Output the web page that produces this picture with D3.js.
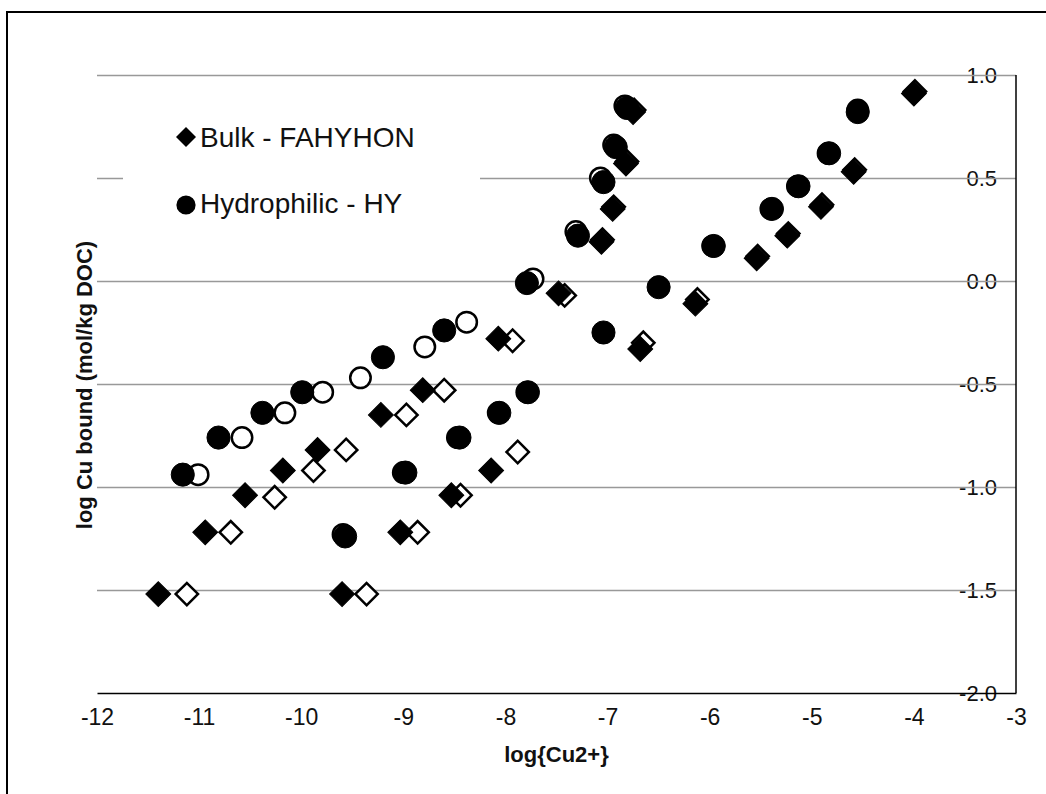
<!DOCTYPE html>
<html>
<head>
<meta charset="utf-8">
<script src="https://cdn.jsdelivr.net/npm/d3@7"></script>
<style>
    body { margin: 0; background: #fff; }
    svg { display: block; font-family: 'Liberation Sans', Arial, sans-serif; }
    .tick-label { font-size: 23px; fill: #111; }
    .y-label { font-size: 22px; fill: #111; }
    .axis-title { font-size: 22px; font-weight: bold; fill: #111; }
    .legend-text { font-size: 28px; fill: #111; }
</style>
</head>
<body>
<svg id="chart"></svg>
<script>
// Bulk - FAHYHON, filled diamonds
const bulkX = [-11.40, -10.94, -10.55, -10.18, -9.84, -9.22, -8.81, -8.07, -7.48, -7.06, -6.95, -6.82, -6.75,
    -9.60, -9.03, -8.53, -8.14, -6.68, -6.14, -5.54, -5.24, -4.91, -4.59, -4.00]
const bulkY = [-1.52, -1.22, -1.04, -0.92, -0.82, -0.65, -0.53, -0.28, -0.06, 0.19, 0.35, 0.57, 0.82,
    -1.52, -1.22, -1.04, -0.92, -0.33, -0.11, 0.11, 0.22, 0.36, 0.53, 0.91]

// Bulk, open diamonds
const bulkOpenX = [-11.12, -10.69, -10.26, -9.88, -9.56, -8.97, -8.60, -7.93, -7.42, -9.36, -8.86, -8.44, -7.88,
    -6.65, -6.12, -5.53, -5.23, -4.90, -4.58, -3.99, -7.05, -6.94, -6.81, -6.74]
const bulkOpenY = [-1.52, -1.22, -1.05, -0.92, -0.82, -0.65, -0.53, -0.29, -0.07, -1.52, -1.22, -1.04, -0.83,
    -0.30, -0.09, 0.12, 0.23, 0.37, 0.54, 0.92, 0.20, 0.36, 0.58, 0.83]

// Hydrophilic - HY, filled circles
const hyX = [-11.16, -10.81, -10.38, -9.99, -9.20, -8.60, -7.79, -7.29, -7.04, -6.92, -6.81,
    -9.57, -8.98, -8.45, -8.06, -7.78, -7.04, -6.50, -5.96, -5.39, -5.13, -4.83, -4.55]
const hyY = [-0.94, -0.76, -0.64, -0.54, -0.37, -0.24, -0.01, 0.22, 0.48, 0.65, 0.84,
    -1.24, -0.93, -0.76, -0.64, -0.54, -0.25, -0.03, 0.17, 0.35, 0.46, 0.62, 0.82]

// Hydrophilic, open circles
const hyOpenX = [-11.01, -10.58, -10.16, -9.79, -9.42, -8.79, -8.38, -7.73, -7.31, -7.07, -6.94, -6.83,
    -9.59, -9.00, -8.47, -8.07, -7.79, -5.97, -5.40, -5.14, -4.84, -4.55]
const hyOpenY = [-0.94, -0.76, -0.64, -0.54, -0.47, -0.32, -0.20, 0.01, 0.24, 0.50, 0.66, 0.85,
    -1.23, -0.93, -0.76, -0.64, -0.54, 0.17, 0.35, 0.46, 0.62, 0.83]

const xTicks = [-12, -11, -10, -9, -8, -7, -6, -5, -4, -3]
const yTicks = [1.0, 0.5, 0.0, -0.5, -1.0, -1.5, -2.0]
const legendLabels = ['Bulk - FAHYHON', 'Hydrophilic - HY']

const width = 1046, height = 794
const margin = { top: 75, right: 30, bottom: 101, left: 97 }
const innerW = width - margin.left - margin.right
const innerH = height - margin.top - margin.bottom

const svg = d3.select('#chart')
    .attr('width', width)
    .attr('height', height)

// outer frame (runs off the right and bottom edges)
svg.append('rect')
    .attr('x', 7).attr('y', 12)
    .attr('width', width + 10).attr('height', height + 10)
    .attr('fill', 'none')
    .attr('stroke', '#000')
    .attr('stroke-width', 2)

const chart = svg.append('g')
    .attr('transform', `translate(${margin.left}, ${margin.top})`)

const xScale = d3.scaleLinear().domain([-12, -3]).range([0, innerW])
const yScale = d3.scaleLinear().domain([-2, 1]).range([innerH, 0])

// y labels sit under the gridlines, just left of the right axis
chart.append('g')
    .selectAll('text')
    .data(yTicks)
    .join('text')
        .attr('class', 'y-label')
        .attr('x', innerW - 19)
        .attr('y', d => yScale(d))
        .attr('dy', '0.36em')
        .attr('text-anchor', 'end')
        .text(d => d3.format('.1f')(d).replace('−', '-'))

// horizontal gridlines
const yGrid = d3.axisRight(yScale).tickValues(yTicks.slice(0, -1)).tickSize(innerW).tickFormat('')
chart.append('g')
    .call(yGrid)
    .call(g => g.select('.domain').remove())
    .call(g => g.selectAll('line').attr('stroke', '#999').attr('stroke-width', 1.5))

// x axis
const xAxis = d3.axisBottom(xScale).tickValues(xTicks).tickSize(0).tickPadding(16)
    .tickFormat(d => String(d))
chart.append('g')
    .attr('transform', `translate(0, ${innerH})`)
    .call(xAxis)
    .call(g => g.select('.domain').attr('stroke', '#000').attr('stroke-width', 1.5))
    .call(g => g.selectAll('text').attr('class', 'tick-label').attr('font-size', null).attr('font-family', null))

// right y axis line
chart.append('line')
    .attr('x1', innerW).attr('x2', innerW)
    .attr('y1', 0).attr('y2', innerH)
    .attr('stroke', '#000')
    .attr('stroke-width', 1.5)

// legend box, hides the gridline behind it
const legend = chart.append('g').attr('transform', 'translate(26, 20)')
legend.append('rect')
    .attr('width', 357).attr('height', 155)
    .attr('fill', '#fff')

const legendDiamond = d3.symbol(d3.symbolSquare, 200)
const legendCircle = d3.symbol(d3.symbolCircle, 290)

legend.append('path')
    .attr('d', legendDiamond())
    .attr('transform', 'translate(63, 42) rotate(45)')
    .attr('fill', '#000')
legend.append('path')
    .attr('d', legendCircle())
    .attr('transform', 'translate(63, 110)')
    .attr('fill', '#000')

legend.selectAll('.legend-text')
    .data(legendLabels)
    .join('text')
        .attr('class', 'legend-text')
        .attr('x', 77)
        .attr('y', (d, i) => 52 + i * 66)
        .text(d => d)

// markers
const zip = (xs, ys) => xs.map((x, i) => ({ x: x, y: ys[i] }))
const diamondFill = d3.symbol(d3.symbolSquare, 310)
const diamondOpen = d3.symbol(d3.symbolSquare, 250)
const circleFill = d3.symbol(d3.symbolCircle, 420)
const circleOpen = d3.symbol(d3.symbolCircle, 330)

const drawSeries = (data, gen, rotate, filled, cls) => {
    chart.selectAll('.' + cls)
        .data(data)
        .join('path')
            .attr('class', cls)
            .attr('d', gen())
            .attr('transform', d => `translate(${xScale(d.x)}, ${yScale(d.y)})` + (rotate ? ' rotate(45)' : ''))
            .attr('fill', filled ? '#000' : '#fff')
            .attr('stroke', '#000')
            .attr('stroke-width', filled ? 1 : 2.5)
}

drawSeries(zip(bulkOpenX, bulkOpenY), diamondOpen, true, false, 'bulk-open')
drawSeries(zip(hyOpenX, hyOpenY), circleOpen, false, false, 'hy-open')
drawSeries(zip(bulkX, bulkY), diamondFill, true, true, 'bulk')
drawSeries(zip(hyX, hyY), circleFill, false, true, 'hy')

// axis titles
svg.append('text')
    .attr('class', 'axis-title')
    .attr('x', margin.left + innerW / 2)
    .attr('y', 762)
    .attr('text-anchor', 'middle')
    .text('log{Cu2+}')

svg.append('text')
    .attr('class', 'axis-title')
    .attr('transform', 'translate(84, 385) rotate(-90)')
    .attr('text-anchor', 'middle')
    .attr('dominant-baseline', 'central')
    .text('log Cu bound (mol/kg DOC)')
</script>
</body>
</html>
